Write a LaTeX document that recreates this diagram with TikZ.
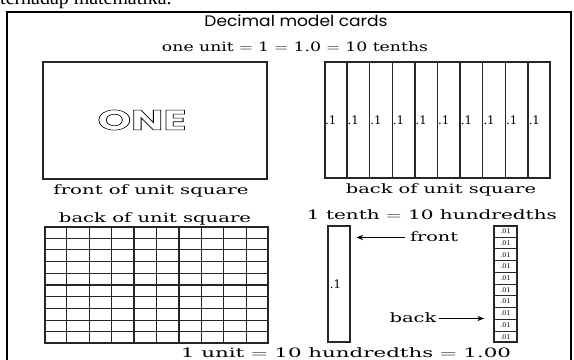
\documentclass[tikz,border=0pt]{standalone}
\usepackage{graphicx}
\usepackage{fontspec}
\setmainfont{DejaVu Serif}
\newfontfamily\titlefont{Poppins}
\newfontfamily\pagefont{Liberation Serif}
\usetikzlibrary{arrows.meta,positioning,calc,fit}

% hollow letters for the front of the card
\newcommand{\hollow}[1]{\special{pdf:literal direct 1 Tr 0.45 w}#1\special{pdf:literal direct 0 Tr}}
% stretch a text to a given width, keeping its height
\newcommand{\fitto}[2]{\resizebox{#1}{\height}{#2}}

\begin{document}
\begin{tikzpicture}[
  x=0.03cm,y=-0.03cm,
  >={Stealth[length=2mm,width=1.6mm]},
  card/.style={draw=black!85,line width=1.1pt,inner sep=0pt},
  rule/.style={draw=black!85,line width=1.1pt},
  txt/.style={font=\fontsize{11}{13}\selectfont,inner sep=0pt,anchor=base},
  tiny/.style={font=\fontsize{5.5}{6}\selectfont,inner sep=0pt},
  arr/.style={->,line width=0.7pt},
]
\useasboundingbox (0,0) rectangle (574,360);

% ---- page fragment and frame -------------------------------------------
\node[font=\pagefont\fontsize{17}{20}\selectfont,anchor=base west,inner sep=0pt] (page) at (0,4) {terhadap matematika.};
\draw[line width=1.6pt] (7,380) -- (7,12) -- (571,12) -- (571,380);

% ---- headings -----------------------------------------------------------
\node[txt,font=\titlefont\fontsize{13}{15}\selectfont] (title) at (296,26) {\fitto{5.49cm}{Decimal model cards}};
\node[txt] (unit) at (295,51) {\fitto{7.98cm}{one unit $=$ 1 $=$ 1.0 $=$ 10 tenths}};

% ---- front of unit square -----------------------------------------------
\node[card,fit={(43,62) (267,179)}] (front) {};
\node[font=\titlefont\bfseries\fontsize{24}{26}\selectfont,inner sep=0pt] (one) at (142,120) {\fitto{2.67cm}{\hollow{ONE}}};
\node[txt] (frontlbl) at (151,194) {\fitto{5.85cm}{front of unit square}};

% ---- back of unit square (tenths) ---------------------------------------
\node[card,fit={(325,62) (550,178)}] (tenths) {};
\foreach \i in {1,...,9}
  \draw[rule] ($(tenths.north west)!\i/10!(tenths.north east)$) -- ($(tenths.south west)!\i/10!(tenths.south east)$);
\foreach \i in {0,...,9}
  \node[inner sep=0pt,font=\fontsize{10}{11}\selectfont] at ($(tenths.west)!{(\i+0.28)/10}!(tenths.east)$) {.1};
\node[txt] (tenthslbl) at (441,193) {\fitto{5.7cm}{back of unit square}};

% ---- back of unit square (hundredths grid) ------------------------------
\node[card,fit={(45,227) (268,343)}] (grid) {};
\foreach \i in {1,...,9} {
  \draw[rule] ($(grid.north west)!\i/10!(grid.north east)$) -- ($(grid.south west)!\i/10!(grid.south east)$);
  \draw[rule,line width=0.9pt] ($(grid.north west)!\i/10!(grid.south west)$) -- ($(grid.north east)!\i/10!(grid.south east)$);
}
\node[txt] (gridlbl) at (155,222) {\fitto{5.76cm}{back of unit square}};

% ---- one tenth, front and back ------------------------------------------
\node[txt] (tenthhead) at (432,219) {\fitto{7.5cm}{1 tenth $=$ 10 hundredths}};
\node[card,fit={(328,226) (350,342)}] (strip) {};
\node[inner sep=0pt,font=\fontsize{10}{11}\selectfont] at ($(strip.west)!0.35!(strip.east)$) {.1};
\node[card,fit={(494,226) (517,342)}] (hstrip) {};
\foreach \i in {1,...,9}
  \draw[rule,line width=0.7pt] ($(hstrip.north west)!\i/10!(hstrip.south west)$) -- ($(hstrip.north east)!\i/10!(hstrip.south east)$);
\foreach \i in {0,...,9}
  \node[tiny] at ($(hstrip.north)!{(\i+0.5)/10}!(hstrip.south)$) {.01};

\node[txt] (fronttxt) at (434,241) {\fitto{1.44cm}{front}};
\draw[arr,shorten <=4pt,shorten >=5pt] ([yshift=3pt]fronttxt.base west) -- ([yshift=3pt]fronttxt.base west -| strip.east);
\node[txt] (backtxt) at (413,322) {\fitto{1.41cm}{back}};
\draw[arr,shorten <=2pt,shorten >=8pt] ([yshift=3pt]backtxt.base east) -- ([yshift=3pt]backtxt.base east -| hstrip.west);

% ---- bottom line --------------------------------------------------------
\node[txt] (total) at (346,357) {\fitto{9.9cm}{1 unit $=$ 10 hundredths $=$ 1.00}};
\end{tikzpicture}
\end{document}
